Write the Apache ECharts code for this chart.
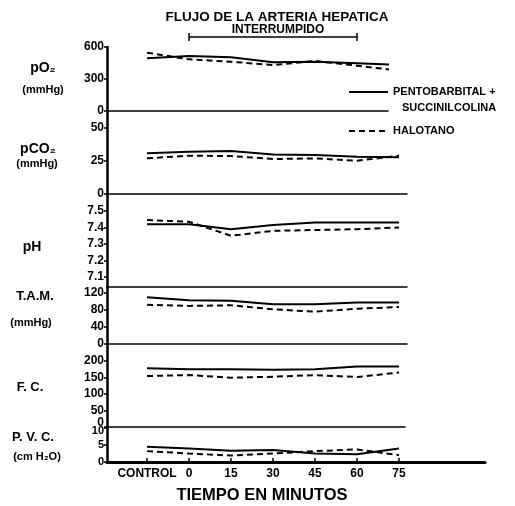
<!DOCTYPE html>
<html>
<head>
<meta charset="utf-8">
<script src="https://cdn.jsdelivr.net/npm/echarts@6/dist/echarts.min.js"></script>
<style>
    html, body { margin: 0; padding: 0; background: #fff; }
    #container { width: 515px; height: 506px; }
</style>
</head>
<body>
<div id="container"></div>
<script type="text/javascript">
    // tiempo (minutos), CONTROL se dibuja en -15
    var minutos = [-15, 0, 15, 30, 45, 60, 75];
    var etiquetas = ['CONTROL', '0', '15', '30', '45', '60', '75'];

    var po2Pento = [494, 516, 503, 456, 462, 447, 431];
    var po2Halo = [547, 484, 462, 431, 469, 425, 378];
    var pco2Pento = [30.8, 32, 32.6, 30, 29.5, 28.3, 27.8];
    var pco2Halo = [27, 29, 28.8, 26.5, 27, 25.2, 29];
    var phPento = [7.42, 7.42, 7.39, 7.415, 7.43, 7.43, 7.43];
    var phHalo = [7.445, 7.435, 7.35, 7.38, 7.385, 7.39, 7.40];
    var tamPento = [110, 103, 101.6, 93.6, 93.6, 97.6, 97.6];
    var tamHalo = [92, 89.6, 91, 81.6, 76, 83, 87];
    var fcPento = [178, 175, 175, 173, 175, 183, 183];
    var fcHalo = [154, 157, 149, 152, 157, 151, 165];
    var pvcPento = [4.5, 4, 3.3, 3.5, 2.5, 2.3, 4];
    var pvcHalo = [3.2, 2.5, 1.9, 2.5, 3.2, 3.7, 2];

    var ticksPo2 = [0, 300, 600];
    var ticksPco2 = [0, 25, 50];
    var ticksPh = [7.1, 7.2, 7.3, 7.4, 7.5];
    var ticksTam = [0, 40, 80, 120];
    var ticksFc = [0, 50, 100, 150, 200];
    var ticksPvc = [0, 5, 10];

    var PENTO = 'PENTOBARBITAL + SUCCINILCOLINA';
    var HALO = 'HALOTANO';
    var FUENTE = 'Liberation Sans';
    var NEGRO = '#000';

    var LEFT = 107;
    var X_MIN = -29.3;
    var PX_POR_MIN = 2.8;

    var fuenteEje = {color: NEGRO, fontFamily: FUENTE, fontWeight: 'bold', fontSize: 12};
    var fuentePvc = {color: NEGRO, fontFamily: FUENTE, fontWeight: 'bold', fontSize: 11};

    // etiquetas apretadas entre F.C. y P.V.C. (como en el original)
    function fmtFc(v) { return v === 0 ? '{u|0}' : String(v); }
    function fmtPvc(v) { return v === 10 ? '{d|10}' : String(v); }
    var richEje = {
        u: Object.assign({padding: [0, 0, 9, 0]}, fuenteEje),
        d: Object.assign({padding: [6, 0, 0, 0]}, fuentePvc)
    };

    var paneles = [
        {top: 47, bottom: 111, right: 388, min: 0, max: 600, ticks: ticksPo2, a: po2Pento, b: po2Halo},
        {top: 111, bottom: 194, right: 407, min: 0, max: 62.9, ticks: ticksPco2, a: pco2Pento, b: pco2Halo},
        {top: 194, bottom: 287, right: 407, min: 7.04, max: 7.603, ticks: ticksPh, a: phPento, b: phHalo},
        {top: 287, bottom: 344, right: 407, min: 0, max: 134, ticks: ticksTam, a: tamPento, b: tamHalo},
        {top: 344, bottom: 427, right: 405, min: 0, max: 251, ticks: ticksFc, a: fcPento, b: fcHalo, fmt: fmtFc},
        {top: 427, bottom: 462, right: 485, min: 0, max: 10.3, ticks: ticksPvc, a: pvcPento, b: pvcHalo, fmt: fmtPvc, font: fuentePvc}
    ];

    var grids = [], xAxes = [], yAxes = [], series = [];
    paneles.forEach(function (p, i) {
        var ultimo = i === paneles.length - 1;
        grids.push({
            left: LEFT, top: p.top, width: p.right - LEFT, height: p.bottom - p.top,
            containLabel: false, outerBoundsMode: 'none'
        });
        xAxes.push({
            gridIndex: i, type: 'value',
            min: X_MIN, max: X_MIN + (p.right - LEFT) / PX_POR_MIN,
            axisLine: {show: true, onZero: false, lineStyle: {color: NEGRO, width: ultimo ? 3 : 1.5}},
            axisTick: {show: ultimo, inside: true, length: 4, customValues: minutos,
                lineStyle: {color: NEGRO, width: 1.5}},
            axisLabel: Object.assign({show: ultimo, customValues: minutos, margin: 6,
                showMinLabel: true, showMaxLabel: true,
                formatter: function (v) {
                    var k = minutos.indexOf(v);
                    return k < 0 ? '' : etiquetas[k];
                }}, fuenteEje),
            splitLine: {show: false}
        });
        var lbl = Object.assign({customValues: p.ticks, margin: 3,
            showMinLabel: true, showMaxLabel: true, hideOverlap: false}, p.font || fuenteEje);
        if (p.fmt) {
            lbl.formatter = p.fmt;
            lbl.rich = richEje;
        }
        yAxes.push({
            gridIndex: i, type: 'value', min: p.min, max: p.max,
            axisLine: {show: true, onZero: false, lineStyle: {color: NEGRO, width: 2.5}},
            axisTick: {show: true, length: 3, customValues: p.ticks, lineStyle: {color: NEGRO, width: 1.5}},
            axisLabel: lbl,
            splitLine: {show: false}
        });
        series.push({
            type: 'line', name: PENTO, xAxisIndex: i, yAxisIndex: i,
            data: minutos.map(function (m, k) { return [m, p.a[k]]; }),
            symbol: 'none', silent: true,
            lineStyle: {color: NEGRO, width: 2}, itemStyle: {color: NEGRO}
        });
        series.push({
            type: 'line', name: HALO, xAxisIndex: i, yAxisIndex: i,
            data: minutos.map(function (m, k) { return [m, p.b[k]]; }),
            symbol: 'none', silent: true,
            lineStyle: {color: NEGRO, width: 2, type: [6, 4]}, itemStyle: {color: NEGRO}
        });
    });

    function texto(id, x, y, t, size, weight, align) {
        return {
            type: 'text', id: id, x: x, y: y, silent: true,
            style: {text: t, fill: NEGRO, font: (weight || 'bold') + ' ' + size + 'px "' + FUENTE + '"',
                textAlign: align || 'center', textVerticalAlign: 'middle'}
        };
    }

    var leyendaTexto = {color: NEGRO, fontFamily: FUENTE, fontWeight: 'bold', fontSize: 11, lineHeight: 16};
    var leyendaBase = {
        left: 348, itemWidth: 39, itemHeight: 10, padding: 0, selectedMode: false,
        itemStyle: {opacity: 0}, textStyle: leyendaTexto
    };

    var option = {
        animation: false,
        backgroundColor: '#fff',
        grid: grids,
        xAxis: xAxes,
        yAxis: yAxes,
        series: series,
        legend: [
            Object.assign({data: [PENTO], top: 84,
                formatter: function () { return 'PENTOBARBITAL +'; }}, leyendaBase),
            Object.assign({data: [HALO], top: 123}, leyendaBase)
        ],
        graphic: [
            texto('t1', 277, 17, 'FLUJO DE LA ARTERIA HEPATICA', 13.5),
            texto('t2', 278, 30, 'INTERRUMPIDO', 12),
            texto('l2', 402, 108, 'SUCCINILCOLINA', 11, 'bold', 'left'),
            texto('n1', 43, 68, 'pO\u2082', 14),
            texto('n2', 43, 90, '(mmHg)', 11),
            texto('n3', 38, 149, 'pCO\u2082', 14),
            texto('n4', 37, 164, '(mmHg)', 11),
            texto('n5', 32, 247, 'pH', 14),
            texto('n6', 35, 296, 'T.A.M.', 13),
            texto('n7', 31, 323, '(mmHg)', 11),
            texto('n8', 30, 387, 'F. C.', 13),
            texto('n9', 33, 437, 'P. V. C.', 13),
            texto('n10', 37, 457, '(cm H\u2082O)', 11),
            texto('n11', 262, 495, 'TIEMPO EN MINUTOS', 16.5)
        ]
    };

    var chart = echarts.init(document.getElementById('container'));
    chart.setOption(option);

    // barra de "interrumpido" de 0 a 60 min
    var x0 = chart.convertToPixel({xAxisIndex: 0}, 0);
    var x1 = chart.convertToPixel({xAxisIndex: 0}, 60);
    var yb = 37;
    chart.setOption({
        graphic: [
            {type: 'line', id: 'b1', silent: true, shape: {x1: x0, y1: yb, x2: x1, y2: yb}, style: {stroke: NEGRO, lineWidth: 1.5}},
            {type: 'line', id: 'b2', silent: true, shape: {x1: x0, y1: yb - 4, x2: x0, y2: yb + 4}, style: {stroke: NEGRO, lineWidth: 1.5}},
            {type: 'line', id: 'b3', silent: true, shape: {x1: x1, y1: yb - 4, x2: x1, y2: yb + 4}, style: {stroke: NEGRO, lineWidth: 1.5}}
        ]
    });
</script>
</body>
</html>
